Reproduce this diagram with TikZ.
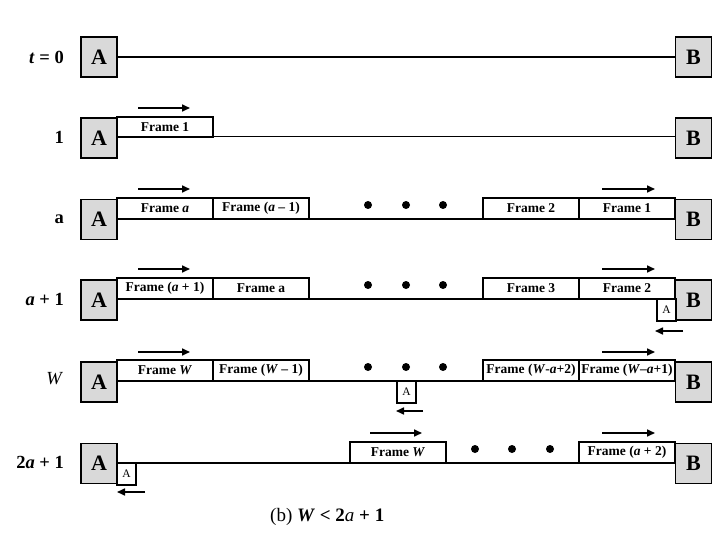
\documentclass[tikz,border=0pt]{standalone}
\usepackage{fontspec}
\setmainfont{Liberation Serif}
\usetikzlibrary{arrows.meta}
\definecolor{boxgray}{HTML}{D9D9D9}
\begin{document}
\begin{tikzpicture}[x=1pt,y=-1pt,
 station/.style={draw,line width=1.6pt,fill=boxgray,minimum width=36pt,minimum height=40pt,inner sep=0pt,outer sep=0pt,font=\bfseries\fontsize{22}{22}\selectfont},
 frm/.style={draw,line width=1.3pt,fill=white,minimum width=96pt,minimum height=21pt,inner sep=0pt,outer sep=0pt,anchor=south west,font=\bfseries\fontsize{13.5}{13.5}\selectfont},
 ack/.style={draw,line width=1.3pt,fill=white,minimum width=19pt,minimum height=22pt,inner sep=0pt,outer sep=0pt,anchor=north west,font=\fontsize{11.5}{11.5}\selectfont},
 link/.style={line width=1.6pt},
 fwd/.style={-{Triangle[length=8pt,width=7pt]},line width=1.6pt},
 dot/.style={circle,fill=black,inner sep=0pt,minimum size=8pt},
 lab/.style={font=\bfseries\fontsize{18.5}{18.5}\selectfont,anchor=east,inner sep=0pt}]
\useasboundingbox (0,0) rectangle (720,540);

% Row 1: t = 0
\node[lab] (l1) at (64,57) {\textit{t} = 0};
\node[station] (A1) at (99,57) {A};
\node[station] (B1) at (693.5,57) {B};
\draw[link] (A1.east) -- (B1.west);

% Row 2: 1
\node[lab] (l2) at (64,137) {1};
\node[station] (A2) at (99,138) {A};
\node[station] (B2) at (693.5,138) {B};
\draw[line width=1pt] (A2.east|-0,137) -- (B2.west|-0,137);
\node[frm,minimum height=20pt] (f21) at (117,137) {Frame 1};
\draw[fwd] (138,108) -- (190,108);

% Row 3: a
\node[lab] (l3) at (64,219) {a};
\node[station] (A3) at (99,219.5) {A};
\node[station] (B3) at (693.5,219.5) {B};
\draw[link] (A3.east|-0,219) -- (B3.west|-0,219);
\node[frm] (f31) at (117,219) {Frame \textit{a}};
\node[frm] (f32) at (213,219) {Frame (\textit{a} – 1)};
\node[frm] (f33) at (483,219) {Frame 2};
\node[frm] (f34) at (579,219) {Frame 1};
\node[dot] (d31) at (368,205) {};
\node[dot] (d32) at (406,205) {};
\node[dot] (d33) at (443,205) {};
\draw[fwd] (138,189) -- (190,189);
\draw[fwd] (602,189) -- (655,189);

% Row 4: a + 1
\node[lab] (l4) at (64,299) {\textit{a} + 1};
\node[station] (A4) at (99,300) {A};
\node[station] (B4) at (693.5,300) {B};
\draw[link] (A4.east|-0,299) -- (B4.west|-0,299);
\node[frm] (f41) at (117,299) {Frame (\textit{a} + 1)};
\node[frm] (f42) at (213,299) {Frame a};
\node[frm] (f43) at (483,299) {Frame 3};
\node[frm] (f44) at (579,299) {Frame 2};
\node[ack] (k4) at (657,299) {A};
\node[dot] (d41) at (368,285) {};
\node[dot] (d42) at (406,285) {};
\node[dot] (d43) at (443,285) {};
\draw[fwd] (138,269) -- (190,269);
\draw[fwd] (602,269) -- (655,269);
\draw[fwd] (683,331) -- (655,331);

% Row 5: W
\node[lab,font=\fontsize{18.5}{18.5}\selectfont\itshape] (l5) at (62,379) {W};
\node[station] (A5) at (99,382) {A};
\node[station] (B5) at (693.5,382) {B};
\draw[link] (A5.east|-0,381) -- (B5.west|-0,381);
\node[frm] (f51) at (117,381) {Frame \textit{W}};
\node[frm] (f52) at (213,381) {Frame (\textit{W} – 1)};
\node[frm] (f53) at (483,381) {Frame (\textit{W}-\textit{a}+2)};
\node[frm] (f54) at (579,381) {Frame (\textit{W}–\textit{a}+1)};
\node[ack] (k5) at (397,381) {A};
\node[dot] (d51) at (368,367) {};
\node[dot] (d52) at (406,367) {};
\node[dot] (d53) at (443,367) {};
\draw[fwd] (138,352) -- (190,352);
\draw[fwd] (602,352) -- (655,352);
\draw[fwd] (423,411) -- (396,411);

% Row 6: 2a + 1
\node[lab] (l6) at (64,462) {2\textit{a} + 1};
\node[station] (A6) at (99,463.5) {A};
\node[station] (B6) at (693.5,463.5) {B};
\draw[link] (A6.east|-0,463) -- (B6.west|-0,463);
\node[frm] (f61) at (350,463) {Frame \textit{W}};
\node[frm] (f62) at (579,463) {Frame (\textit{a} + 2)};
\node[ack] (k6) at (117,463) {A};
\node[dot] (d61) at (475,449) {};
\node[dot] (d62) at (512,449) {};
\node[dot] (d63) at (550,449) {};
\draw[fwd] (370,433) -- (422,433);
\draw[fwd] (602,433) -- (655,433);
\draw[fwd] (145,492) -- (117,492);

% Caption
\node[font=\fontsize{19}{19}\selectfont,inner sep=0pt,anchor=west] (cap) at (270,517) {(b) \textbf{\textit{W} < 2}\textit{a} \textbf{+ 1}};
\end{tikzpicture}
\end{document}
